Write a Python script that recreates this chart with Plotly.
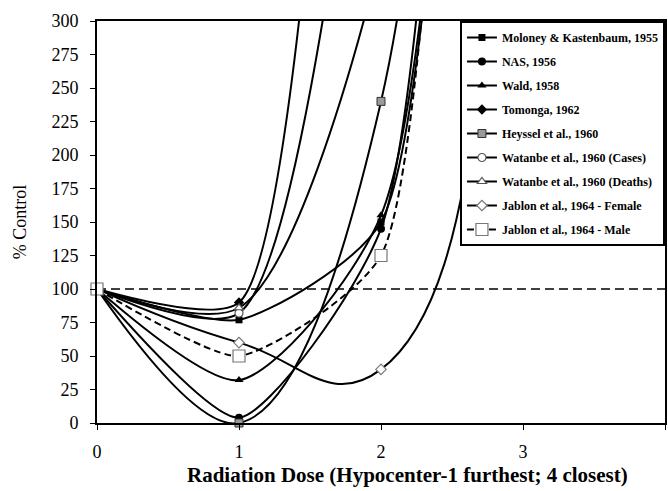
import plotly.graph_objects as go

dose = [0, 1, 2, 3, 4]

moloney = [100, 77, 150, 1600, 3000]
nas = [100, 4, 145, 1600, 3000]
wald = [100, 32, 155, 1500, 3000]
tomonga = [100, 90, 1100, 2500, 4000]
heyssel = [100, 0, 240, 3000, 5000]
wat_cases = [100, 82, 600, 1800, 3000]
wat_deaths = [100, 86, 350, 1400, 2500]
jablon_f = [100, 60, 40, 1200, 2500]
jablon_m = [100, 50, 125, 2000, 3500]
control = [100, 100, 100, 100, 100]

x_title = "Radiation Dose (Hypocenter-1 furthest; 4 closest)"
y_title = "% Control"

series = [
    ("Moloney & Kastenbaum, 1955", moloney, dict(symbol="square", size=7, color="black"), "solid", 0.6),
    ("NAS, 1956", nas, dict(symbol="circle", size=8, color="black"), "solid", 0.6),
    ("Wald, 1958", wald, dict(symbol="triangle-up", size=8, color="black"), "solid", 0.7),
    ("Tomonga, 1962", tomonga, dict(symbol="diamond", size=8, color="black"), "solid", 0.6),
    ("Heyssel et al., 1960", heyssel, dict(symbol="square", size=8, color="#9a9a9a", line=dict(color="#333", width=1)), "solid", 1.0),
    ("Watanbe et al., 1960 (Cases)", wat_cases, dict(symbol="circle", size=8, color="white", line=dict(color="#555", width=1.2)), "solid", 0.7),
    ("Watanbe et al., 1960 (Deaths)", wat_deaths, dict(symbol="triangle-up", size=8, color="white", line=dict(color="#555", width=1.2)), "solid", 0.8),
    ("Jablon et al., 1964 - Female", jablon_f, dict(symbol="diamond", size=8, color="white", line=dict(color="#777", width=1.2)), "solid", 1.3),
    ("Jablon et al., 1964 - Male", jablon_m, dict(symbol="square", size=12, color="white", line=dict(color="#777", width=1.2)), "7px,4px", 0.55),
]

fig = go.Figure()

fig.add_trace(go.Scatter(
    x=dose, y=control, mode="lines", showlegend=False,
    line=dict(color="black", width=1.6, dash="9px,5px"), hoverinfo="skip",
))

for i, (name, vals, mk, dash, sm) in enumerate(series):
    fig.add_trace(go.Scatter(
        x=dose, y=vals, name=name, mode="lines+markers",
        line=dict(color="black", width=2, shape="spline", smoothing=sm, dash=dash),
        marker=mk, cliponaxis=False, legendgroup=f"g{i}",
    ))

serif = "Liberation Serif, Times New Roman, serif"
axis_font = dict(family=serif, size=18, color="black")

fig.add_annotation(
    text=f"<b>{x_title}</b>", xref="paper", yref="paper",
    x=0.546, y=-0.13, xanchor="center", yanchor="middle", showarrow=False,
    font=dict(family=serif, size=21, color="black"),
)

fig.update_layout(
    width=668, height=491,
    margin=dict(l=97, r=3, t=21, b=68),
    paper_bgcolor="white", plot_bgcolor="white",
    showlegend=True,
    legend=dict(
        x=0.639, y=1, xanchor="left", yanchor="top",
        bgcolor="white", bordercolor="black", borderwidth=2,
        font=dict(family=serif, size=12, color="black", weight="bold"),
        tracegroupgap=5, traceorder="grouped",
    ),
    xaxis=dict(
        range=[0, 4], tickvals=[0, 1, 2, 3, 4], ticks="outside", ticklen=5,
        tickcolor="black", showline=True, linecolor="black", linewidth=2, mirror=True,
        showgrid=False, zeroline=False, tickfont=axis_font, ticklabelstandoff=6,
        automargin=False,
    ),
    yaxis=dict(
        range=[0, 300], tickvals=list(range(0, 301, 25)), ticks="outside", ticklen=5,
        tickcolor="black", showline=True, linecolor="black", linewidth=2, mirror=True,
        showgrid=False, zeroline=False, tickfont=axis_font, ticklabelstandoff=8,
        automargin=False,
        title=dict(text=y_title, font=dict(family=serif, size=18, color="black"), standoff=20),
    ),
)

fig.write_html(
    "out.html",
    config={"displayModeBar": False},
    post_script="document.body.style.margin='0';document.body.style.overflow='hidden';",
)
